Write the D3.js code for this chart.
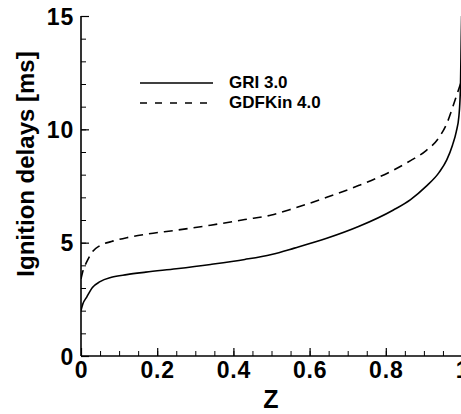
<!DOCTYPE html>
<html>
<head>
<meta charset="utf-8">
<script src="https://cdn.jsdelivr.net/npm/d3@7"></script>
<style>
  html, body { margin: 0; padding: 0; background: #fff; }
  svg { display: block; font-family: "Liberation Sans", Arial, Helvetica, sans-serif; font-weight: bold; }
</style>
</head>
<body>
<svg id="chart" width="461" height="414"></svg>
<script>
// ---- data ----
const zValues = [0, 0.005, 0.015, 0.03, 0.05, 0.08, 0.12, 0.17, 0.25, 0.34, 0.43, 0.5, 0.56, 0.645, 0.73, 0.82, 0.865, 0.905, 0.94, 0.96, 0.975, 0.985, 0.992, 0.996, 0.998, 1.0];
const gri30 = [2.0, 2.3, 2.6, 3.02, 3.28, 3.47, 3.59, 3.70, 3.85, 4.04, 4.26, 4.48, 4.76, 5.19, 5.72, 6.44, 6.9, 7.47, 8.1, 8.65, 9.3, 9.9, 10.6, 11.9, 14.0, 16.0];
const gdfkin40 = [3.4, 3.75, 4.15, 4.6, 4.87, 5.05, 5.22, 5.37, 5.55, 5.77, 6.02, 6.22, 6.52, 7.0, 7.53, 8.2, 8.62, 9.05, 9.65, 10.25, 10.95, 11.45, 11.8, 12.0, 12.1, 12.2];
const seriesNames = ["GRI 3.0", "GDFKin 4.0"];
const xTicks = [0, 0.2, 0.4, 0.6, 0.8, 1];
const xTickLabels = ["0", "0.2", "0.4", "0.6", "0.8", "1"];
const yTicks = [0, 5, 10, 15];
const yTickLabels = ["0", "5", "10", "15"];
const xTitle = "Z";
const yTitle = "Ignition delays [ms]";

// ---- layout ----
const svg = d3.select("#chart");
const x = d3.scaleLinear().domain([0, 1]).range([81, 462]);
const y = d3.scaleLinear().domain([0, 15]).range([356, 16]);

svg.append("defs").append("clipPath").attr("id", "clip")
  .append("rect").attr("x", 81).attr("y", 16).attr("width", 381).attr("height", 340);

// minor ticks
const xMinor = d3.range(0, 1.0001, 0.05);
const yMinor = d3.range(0, 15.0001, 1);
svg.append("g").attr("transform", "translate(0,356)")
  .call(d3.axisBottom(x).tickValues(xMinor).tickSize(-5).tickFormat(""))
  .call(g => g.select(".domain").remove())
  .call(g => g.selectAll("line").attr("stroke", "#000").attr("stroke-width", 1));
svg.append("g").attr("transform", "translate(81,0)")
  .call(d3.axisLeft(y).tickValues(yMinor).tickSize(-5).tickFormat(""))
  .call(g => g.select(".domain").remove())
  .call(g => g.selectAll("line").attr("stroke", "#000").attr("stroke-width", 1));

// major ticks
const xAxis = svg.append("g").attr("transform", "translate(0,356)")
  .call(d3.axisBottom(x).tickValues(xTicks).tickSize(-8).tickPadding(0)
    .tickFormat((d, i) => xTickLabels[i]));
xAxis.select(".domain").attr("stroke", "#000").attr("stroke-width", 1.6).attr("d", "M81,0H462");
xAxis.selectAll("line").attr("stroke", "#000").attr("stroke-width", 1.2);
xAxis.selectAll("text").attr("y", 22).attr("dy", null)
  .attr("fill", "#000").attr("font-size", 23).attr("font-weight", "bold")
  .attr("letter-spacing", "0.8px")
  .attr("font-family", "'Liberation Sans', Arial, sans-serif");

const yAxis = svg.append("g").attr("transform", "translate(81,0)")
  .call(d3.axisLeft(y).tickValues(yTicks).tickSize(-8).tickPadding(0)
    .tickFormat((d, i) => yTickLabels[i]));
yAxis.select(".domain").attr("stroke", "#000").attr("stroke-width", 1.6).attr("d", "M0,16V356");
yAxis.selectAll("line").attr("stroke", "#000").attr("stroke-width", 1.2);
yAxis.selectAll("text").attr("x", -7).attr("dy", "0.36em")
  .attr("fill", "#000").attr("font-size", 23).attr("font-weight", "bold")
  .attr("letter-spacing", "0.8px")
  .attr("font-family", "'Liberation Sans', Arial, sans-serif");

// titles
svg.append("text").attr("x", 271).attr("y", 408).attr("text-anchor", "middle")
  .attr("font-size", 25).attr("fill", "#000").text(xTitle);
svg.append("text").attr("transform", "translate(34,164) rotate(-90)")
  .attr("text-anchor", "middle").attr("font-size", 24).attr("fill", "#000").text(yTitle);

// curves
const line = d3.line().curve(d3.curveMonotoneX).x(d => x(d[0])).y(d => y(d[1]));
const plot = svg.append("g").attr("clip-path", "url(#clip)");
plot.append("path").datum(zValues.map((z, i) => [z, gri30[i]]))
  .attr("d", line).attr("fill", "none").attr("stroke", "#000").attr("stroke-width", 1.6);
plot.append("path").datum(zValues.map((z, i) => [z, gdfkin40[i]]))
  .attr("d", line).attr("fill", "none").attr("stroke", "#000").attr("stroke-width", 1.6)
  .attr("stroke-dasharray", "9,6");

// legend
const legend = svg.append("g");
const legY = [83, 103];
const legDash = [null, "7,8"];
seriesNames.forEach((name, i) => {
  legend.append("line").attr("x1", 140).attr("x2", 213).attr("y1", legY[i]).attr("y2", legY[i])
    .attr("stroke", "#000").attr("stroke-width", 1.6).attr("stroke-dasharray", legDash[i]);
  legend.append("text").attr("x", 229).attr("y", legY[i] + 5).attr("font-size", 17)
    .attr("fill", "#000").text(name);
});
</script>
</body>
</html>
